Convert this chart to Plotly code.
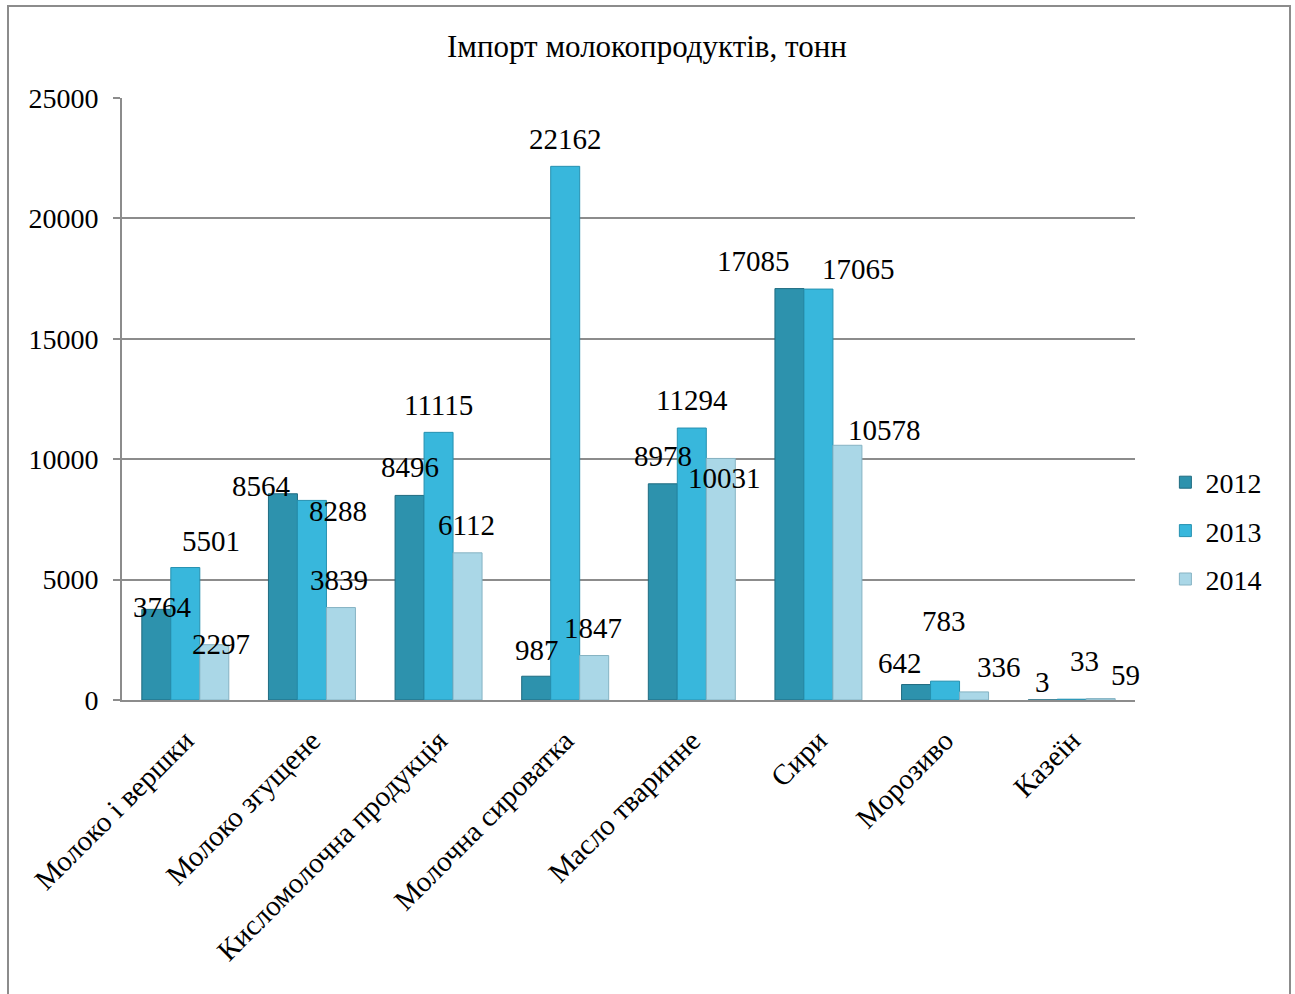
import plotly.graph_objects as go

categories = ["Молоко і вершки", "Молоко згущене", "Кисломолочна продукція",
              "Молочна сироватка", "Масло тваринне", "Сири", "Морозиво", "Казеїн"]
years = ["2012", "2013", "2014"]
v2012 = [3764, 8564, 8496, 987, 8978, 17085, 642, 3]
v2013 = [5501, 8288, 11115, 22162, 11294, 17065, 783, 33]
v2014 = [2297, 3839, 6112, 1847, 10031, 10578, 336, 59]
series = [v2012, v2013, v2014]
y_ticks = [0, 5000, 10000, 15000, 20000, 25000]

colors = ["#2d92ad", "#38b7dc", "#aad7e7"]
edges = ["#1f6b80", "#2691b0", "#86b3c3"]

# label nudges (pixels) relative to the top of each bar
label_dx = [
    [6, 26, 7],
    [-21, 26, -2],
    [0, 0, -1],
    [1, 0, -1],
    [0, 0, 4],
    [-36, 40, 37],
    [-16, -1, 25],
    [0, 13, 25],
]
label_dy = [
    [2, 27, 1],
    [8, -11, 28],
    [28, 27, 28],
    [26, 27, 28],
    [28, 28, -20],
    [28, 20, 15],
    [22, 60, 25],
    [18, 38, 24],
]

font_family = "Liberation Serif"
fig = go.Figure()
for i, (name, vals) in enumerate(zip(years, series)):
    fig.add_trace(go.Bar(
        x=categories, y=vals, name=name, legendgroup=name,
        marker=dict(color=colors[i], line=dict(color=edges[i], width=1)),
    ))

bar_px = 29
annotations = []
for c, cat in enumerate(categories):
    for i, vals in enumerate(series):
        annotations.append(dict(
            x=cat, y=vals[c], xref="x", yref="y", text=str(vals[c]),
            showarrow=False, xanchor="center", yanchor="middle",
            xshift=(i - 1) * bar_px + label_dx[c][i], yshift=label_dy[c][i],
            font=dict(family=font_family, size=29, color="#000000"),
        ))

annotations.append(dict(
    text="Імпорт молокопродуктів, тонн", x=0.518, y=(700 - 47) / 602,
    xref="paper", yref="paper", xanchor="center", yanchor="middle",
    showarrow=False, font=dict(family=font_family, size=31, color="#000000"),
))

fig.update_layout(
    width=1295, height=994,
    margin=dict(l=122, r=160, t=98, b=294, autoexpand=False),
    paper_bgcolor="#ffffff", plot_bgcolor="#ffffff",
    barmode="group", bargap=0.313, bargroupgap=0,
    font=dict(family=font_family, size=28, color="#000000"),
    showlegend=True,
    legend=dict(x=1.03, y=(700 - 531) / 602, xanchor="left", yanchor="middle",
                font=dict(family=font_family, size=28, color="#000000"),
                itemwidth=30, tracegroupgap=9, bgcolor="rgba(0,0,0,0)"),
    xaxis=dict(type="category", range=[-0.5, 7.5], autorange=False,
               tickangle=-45, showgrid=False, showline=True, linecolor="#8c8c8c",
               linewidth=2, ticks="", automargin=False, ticklabelstandoff=10,
               tickfont=dict(family=font_family, size=29)),
    yaxis=dict(range=[0, 25000], autorange=False, tickvals=y_ticks, tickformat="d",
               showgrid=True, gridcolor="#8c8c8c",
               gridwidth=2, showline=True, linecolor="#8c8c8c", linewidth=2,
               ticks="outside", ticklen=7, tickcolor="#8c8c8c", tickwidth=2,
               zeroline=False, automargin=False, ticklabelstandoff=9,
               tickfont=dict(family=font_family, size=28)),
    annotations=annotations,
    shapes=[dict(type="rect", xref="paper", yref="paper",
                 x0=(8 - 122) / 1013, x1=(1290 - 122) / 1013,
                 y0=(700 - 1000) / 602, y1=(700 - 6) / 602,
                 line=dict(color="#8c8c8c", width=2))],
)

fig.write_html("out.html")
